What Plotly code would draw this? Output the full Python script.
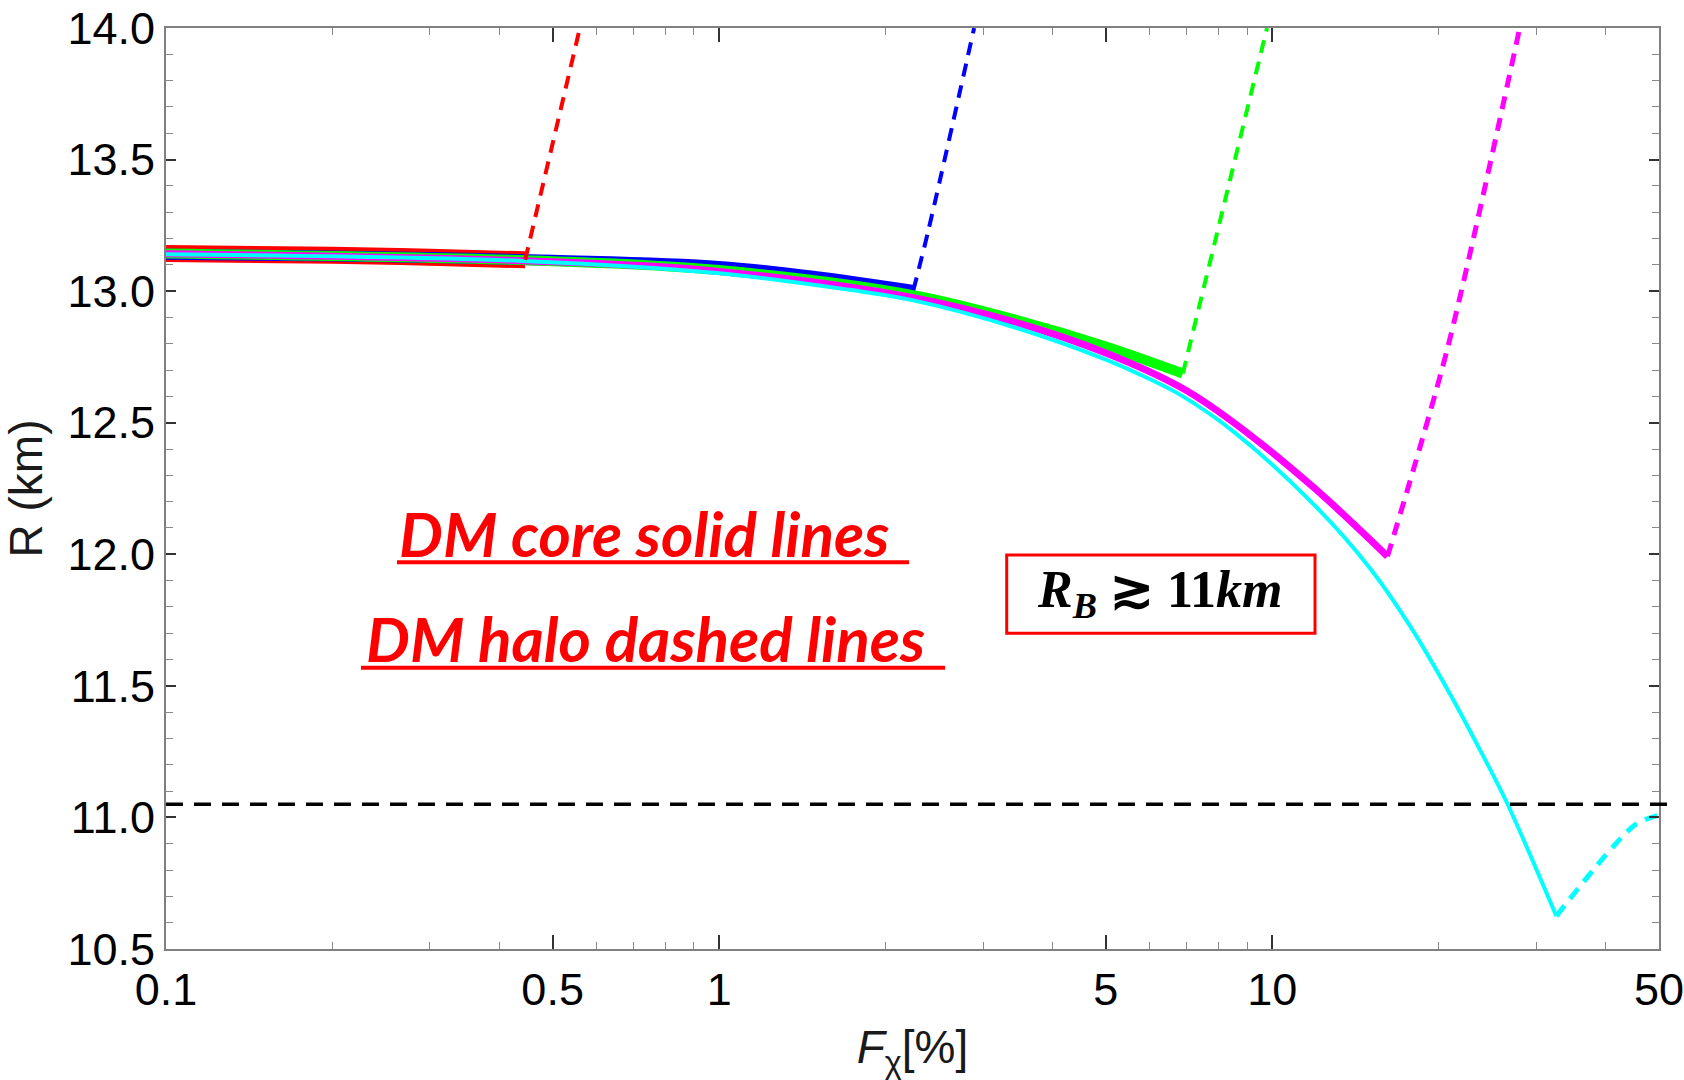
import plotly.graph_objects as go

# ---- DM core branches (solid): F_chi [%] vs R [km] ----
red_core_F = [0.1, 0.2, 0.3, 0.446]
red_core_R = [13.143, 13.136, 13.129, 13.119]

blue_core_F = [0.1, 0.2, 0.5, 1.0, 1.5, 2.244]
blue_core_R = [13.14, 13.134, 13.117, 13.094, 13.055, 13.003]

green_core_F = [0.1, 0.5, 1.0, 2.244, 3.45, 5.0, 6.89]
green_core_R = [13.143, 13.114, 13.08, 12.985, 12.89, 12.79, 12.687]

magenta_core_F = [0.1, 0.5, 1.0, 2.244, 3.45, 5.0, 6.89, 8.52, 11.86, 16.15]
magenta_core_R = [13.142, 13.112, 13.075, 12.975, 12.88, 12.765, 12.63, 12.50, 12.255, 11.992]

cyan_core_F = [0.1, 0.44, 1.0, 1.72, 2.244, 3.45, 5.0, 6.01, 6.89, 8.52,
               12.0, 15.0, 17.77, 20.9, 24.1, 26.6, 31.7, 32.6]
cyan_core_R = [13.14, 13.115, 13.068, 13.005, 12.965, 12.86, 12.74, 12.665, 12.60, 12.465,
               12.18, 11.948, 11.725, 11.473, 11.23, 11.052, 10.686, 10.625]

# ---- DM halo branches (dashed) ----
red_halo_F = [0.446, 0.56]
red_halo_R = [13.119, 14.0]

blue_halo_F = [2.244, 2.39, 2.89]
blue_halo_R = [13.003, 13.233, 14.0]

green_halo_F = [6.89, 9.78]
green_halo_R = [12.687, 14.0]

magenta_halo_F = [16.15, 20.7, 28.0]
magenta_halo_R = [11.992, 12.777, 14.0]

cyan_halo_F = [32.6, 45.2, 50.0]
cyan_halo_R = [10.625, 10.971, 11.009]

# lower bound on the radius
R_BOUND = 11.05

# axis ticks
x_major = [0.1, 0.5, 1, 5, 10, 50]
x_major_text = ["0.1", "0.5", "1", "5", "10", "50"]
x_minor = [0.2, 0.3, 0.4, 0.6, 0.7, 0.8, 0.9, 2, 3, 4, 6, 7, 8, 9, 20, 30, 40]

RED, BLUE, GREEN, MAGENTA, CYAN = "#ff0000", "#0000ff", "#00ff00", "#ff00ff", "#00ffff"

fig = go.Figure()

core = [
    (red_core_F, red_core_R, RED, 17),
    (blue_core_F, blue_core_R, BLUE, 11),
    (green_core_F, green_core_R, GREEN, 10),
    (magenta_core_F, magenta_core_R, MAGENTA, 7),
    (cyan_core_F, cyan_core_R, CYAN, 4),
]
for fx, ry, col, w in core:
    fig.add_trace(go.Scatter(x=fx, y=ry, mode="lines",
                             line=dict(color=col, width=w, shape="spline", smoothing=1.0),
                             hoverinfo="skip", showlegend=False))

halo = [
    (red_halo_F, red_halo_R, RED, 4),
    (blue_halo_F, blue_halo_R, BLUE, 4),
    (green_halo_F, green_halo_R, GREEN, 4),
    (magenta_halo_F, magenta_halo_R, MAGENTA, 5),
    (cyan_halo_F, cyan_halo_R, CYAN, 5),
]
for fx, ry, col, w in halo:
    fig.add_trace(go.Scatter(x=fx, y=ry, mode="lines",
                             line=dict(color=col, width=w, dash="13px,9px", shape="spline", smoothing=0.8),
                             hoverinfo="skip", showlegend=False))

# horizontal bound line, running slightly past the right frame
fig.add_shape(type="line", xref="paper", yref="y", x0=0, x1=1.008,
              y0=R_BOUND, y1=R_BOUND, line=dict(color="black", width=3.5, dash="17px,11px"))

TXT_FONT = dict(family="Lato, 'Open Sans', sans-serif", size=62, color=RED)
fig.add_annotation(xref="paper", yref="paper", x=0.155, y=0.452, xanchor="left", yanchor="middle",
                   text="<b><i>DM core solid lines</i></b>", showarrow=False, font=TXT_FONT)
fig.add_annotation(xref="paper", yref="paper", x=0.1323, y=0.338, xanchor="left", yanchor="middle",
                   text="<b><i>DM halo dashed lines</i></b>", showarrow=False, font=TXT_FONT)
# underlines
fig.add_shape(type="line", xref="paper", yref="paper", x0=0.1547, x1=0.4977, y0=0.42, y1=0.42,
              line=dict(color=RED, width=4))
fig.add_shape(type="line", xref="paper", yref="paper", x0=0.1306, x1=0.5218, y0=0.3055, y1=0.3055,
              line=dict(color=RED, width=4))

# boxed constraint
fig.add_shape(type="rect", xref="paper", yref="paper", x0=0.5631, x1=0.7696, y0=0.3429, y1=0.4279,
              line=dict(color=RED, width=3), fillcolor="rgba(0,0,0,0)")
fig.add_annotation(xref="paper", yref="paper", x=0.6658, y=0.3856, xanchor="center", yanchor="middle",
                   text="<b><i>R</i><sub><i>B</i></sub> \u2273 11<i>km</i></b>", showarrow=False,
                   font=dict(family="'Liberation Serif', 'DejaVu Serif', serif", size=52, color="black"))

AX_FONT = dict(family="'Liberation Sans', Arial, sans-serif", size=45, color="black")
TITLE_FONT = dict(family="'Liberation Sans', Arial, sans-serif", size=46, color="#1a1a1a")
fig.update_xaxes(
    type="log", range=[-1, 1.69897], showgrid=False, zeroline=False, automargin=False,
    showline=True, linecolor="#808080", linewidth=2, mirror="allticks",
    ticks="inside", ticklen=14, tickwidth=1.5, tickcolor="#333333",
    tickmode="array", tickvals=x_major, ticktext=x_major_text, tickfont=AX_FONT,
    ticklabeloverflow="allow",
    minor=dict(tickmode="array", tickvals=x_minor, ticks="inside", ticklen=7,
               tickwidth=1.2, tickcolor="#888888", showgrid=False),
    title=dict(text="<i>F</i><sub>\u03c7</sub>[%]", font=TITLE_FONT, standoff=22),
)
fig.update_yaxes(
    range=[10.5, 14.0], showgrid=False, zeroline=False, automargin=False,
    showline=True, linecolor="#808080", linewidth=2, mirror="allticks",
    ticks="inside", ticklen=10, tickwidth=1.5, tickcolor="#333333",
    tickmode="linear", tick0=10.5, dtick=0.5, tickformat=".1f", tickfont=AX_FONT,
    ticklabeloverflow="allow",
    minor=dict(dtick=0.1, ticks="inside", ticklen=7, tickwidth=1.2, tickcolor="#888888", showgrid=False),
    title=dict(text="R (km)", font=TITLE_FONT, standoff=12),
)

fig.update_layout(
    width=1684, height=1080,
    margin=dict(l=166, r=25, t=28, b=131),
    paper_bgcolor="white", plot_bgcolor="white",
    showlegend=False,
)

fig.write_html("out.html")
